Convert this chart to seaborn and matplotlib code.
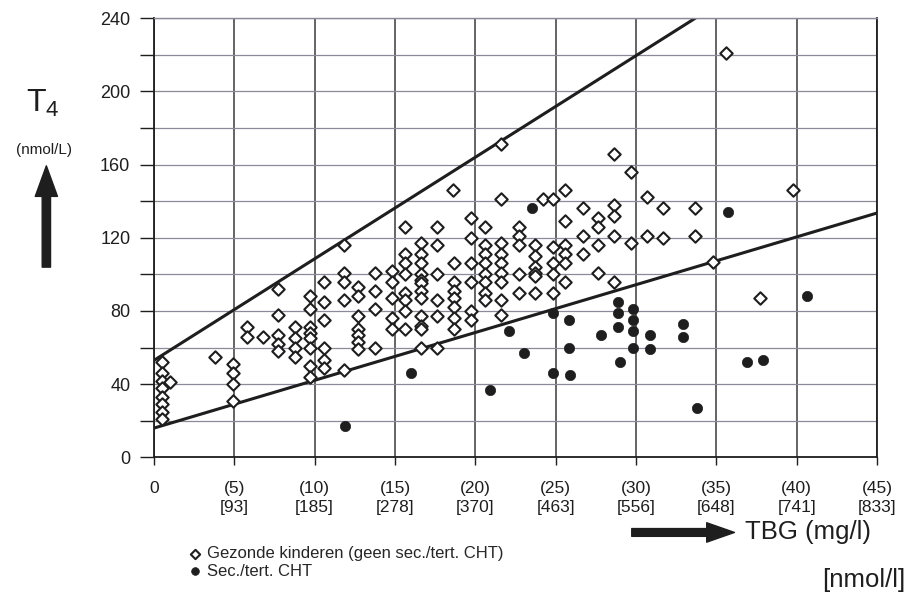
import numpy as np
import pandas as pd
import matplotlib.pyplot as plt
import seaborn as sns

# healthy children (open diamonds): TBG in mg/l, T4 in nmol/L
healthy_tbg = [
    0.5, 0.5, 0.5, 0.5, 0.5, 0.5, 0.5, 0.5, 1.0, 3.8,
    4.9, 4.9, 4.9, 4.9, 5.8, 5.8, 6.8,
    7.7, 7.7, 7.7, 7.7, 7.7,
    8.8, 8.8, 8.8, 8.8,
    9.7, 9.7, 9.7, 9.7, 9.7, 9.7, 9.7, 9.7,
    10.6, 10.6, 10.6, 10.6, 10.6, 10.6,
    11.8, 11.8, 11.8, 11.8, 11.8,
    12.7, 12.7, 12.7, 12.7, 12.7, 12.7, 12.7,
    13.75, 13.75, 13.75, 13.75,
    14.8, 14.8, 14.8, 14.8, 14.8,
    15.6, 15.6, 15.6, 15.6, 15.6, 15.6, 15.6, 15.6,
    16.6, 16.6, 16.6, 16.6, 16.6, 16.6, 16.6, 16.6, 16.6, 16.6, 16.6, 16.6,
    17.6, 17.6, 17.6, 17.6, 17.6, 17.6,
    18.6,
    18.7, 18.7, 18.7, 18.7, 18.7, 18.7, 18.7,
    19.7, 19.7, 19.7, 19.7, 19.7, 19.7,
    20.6, 20.6, 20.6, 20.6, 20.6, 20.6, 20.6, 20.6,
    21.6, 21.6, 21.6, 21.6, 21.6, 21.6, 21.6, 21.6, 21.6,
    22.7, 22.7, 22.7, 22.7, 22.7,
    23.7, 23.7, 23.7, 23.7, 23.7, 23.7,
    24.2,
    24.85, 24.85, 24.85, 24.85, 24.85,
    25.6, 25.6, 25.6, 25.6, 25.6, 25.6,
    26.7, 26.7, 26.7,
    27.65, 27.65, 27.65, 27.65,
    28.6, 28.6, 28.6, 28.6, 28.6,
    29.7, 29.7, 30.7, 30.7, 31.7, 31.7, 33.7, 33.7,
    34.8, 35.6, 37.7, 39.8,
]
healthy_t4 = [
    52, 46, 42, 38, 33, 29, 25, 21, 41, 55,
    51, 46, 40, 31, 71, 66, 66,
    92, 78, 67, 62, 58,
    71, 65, 60, 55,
    88, 81, 71, 68, 65, 60, 50, 44,
    96, 85, 75, 60, 53, 49,
    116, 101, 96, 86, 48,
    93, 88, 77, 70, 67, 63, 59,
    101, 91, 81, 60,
    102, 96, 87, 76, 70,
    126, 111, 106, 100, 90, 86, 80, 70,
    117, 111, 106, 100, 97, 95, 91, 87, 77, 72, 70, 60,
    126, 116, 100, 86, 77, 60,
    146,
    106, 96, 91, 87, 82, 76, 70,
    131, 120, 106, 96, 80, 75,
    126, 116, 111, 106, 100, 96, 90, 86,
    171, 141, 117, 111, 106, 101, 96, 86, 78,
    126, 121, 116, 100, 90,
    116, 110, 104, 101, 99, 90,
    141,
    141, 115, 106, 100, 90,
    146, 129, 116, 111, 106, 96,
    136, 121, 111,
    131, 126, 116, 101,
    166, 138, 132, 121, 96,
    156, 117, 142, 121, 136, 120, 136, 121,
    107, 221, 87, 146,
]

# secondary / tertiary CHT (filled dots)
cht_tbg = [11.9, 16.0, 20.9, 22.1, 23.0, 23.5, 24.85, 24.85, 25.8, 25.8,
           25.9, 27.8, 28.9, 28.9, 28.9, 29.0, 29.8, 29.8, 29.8, 29.8,
           30.9, 30.9, 32.9, 32.9, 33.8, 35.7, 36.9, 37.9, 40.65]
cht_t4 = [17, 46, 37, 69, 57, 136, 79, 46, 75, 60,
          45, 67, 85, 79, 71, 52, 81, 75, 69, 60,
          67, 59, 73, 66, 27, 134, 52, 53, 88]

# the two boundary lines
upper_tbg = [0, 33.7]
upper_t4 = [53, 240]
lower_tbg = [0, 45]
lower_t4 = [16, 133.5]

x_ticks = [0, 5, 10, 15, 20, 25, 30, 35, 40, 45]
x_nmol = [None, 93, 185, 278, 370, 463, 556, 648, 741, 833]

healthy = pd.DataFrame({'tbg': healthy_tbg, 't4': healthy_t4})
cht = pd.DataFrame({'tbg': cht_tbg, 't4': cht_t4})

sns.set_style('white')
plt.rcParams['font.family'] = ['Liberation Sans', 'DejaVu Sans']

fig, ax = plt.subplots(figsize=(9.09, 6.03), dpi=100)
fig.subplots_adjust(left=0.1694, right=0.9648, bottom=0.2415, top=0.970)

ink = '#1e1e1e'
sns.lineplot(x=upper_tbg, y=upper_t4, ax=ax, color=ink, lw=2.2, zorder=2)
sns.lineplot(x=lower_tbg, y=lower_t4, ax=ax, color=ink, lw=2.2, zorder=2)

sns.scatterplot(data=healthy, x='tbg', y='t4', ax=ax, marker='D', s=40,
                color='white', edgecolor=ink, linewidth=1.5, zorder=3,
                label='Gezonde kinderen (geen sec./tert. CHT)')
sns.scatterplot(data=cht, x='tbg', y='t4', ax=ax, marker='o', s=55,
                color=ink, edgecolor=ink, linewidth=0.5, zorder=3,
                label='Sec./tert. CHT')

ax.set_xlim(0, 45)
ax.set_ylim(0, 240)
ax.set_xlabel('')
ax.set_ylabel('')

ax.set_xticks(x_ticks)
ax.set_xticklabels(['0' if n is None else f'({t})\n[{n}]' for t, n in zip(x_ticks, x_nmol)])
plt.setp(ax.get_xticklabels(), linespacing=1.3)
ax.set_yticks(range(0, 241, 40))
ax.set_yticks(range(20, 241, 40), minor=True)

ax.tick_params(axis='x', direction='out', length=6, width=1, pad=11,
               labelsize=12.5, colors=ink, bottom=True)
ax.tick_params(axis='y', which='both', direction='out', length=10, width=1,
               pad=7, labelsize=13, colors=ink, left=True)

ax.set_axisbelow(True)
ax.yaxis.grid(True, which='both', color='#8a8a98', lw=0.9)
ax.xaxis.grid(True, color='#3a3a3a', lw=1.1)
for side in ['left', 'bottom', 'right']:
    ax.spines[side].set_color(ink)
    ax.spines[side].set_linewidth(1.3)
ax.spines['top'].set_color('#8a8a98')
ax.spines['top'].set_linewidth(1)

ax.legend(loc='upper left', bbox_to_anchor=(0.2074, 0.094),
          bbox_transform=fig.transFigure, frameon=False, fontsize=12,
          borderpad=0, borderaxespad=0, handlelength=0.8, handletextpad=0.3,
          labelspacing=0.15, markerscale=0.75)

# axis captions with arrows
fig.text(0.047, 0.829, r'$\mathregular{T_4}$', fontsize=23, ha='center', va='center', color=ink)
fig.text(0.048, 0.751, '(nmol/L)', fontsize=11, ha='center', va='center', color=ink)
ax.annotate('', xy=(0.051, 0.725), xytext=(0.051, 0.557), xycoords='figure fraction',
            arrowprops=dict(arrowstyle='simple,head_width=0.8,head_length=1.1,tail_width=0.3',
                            color=ink, mutation_scale=20, shrinkA=0, shrinkB=0))
ax.annotate('', xy=(0.808, 0.117), xytext=(0.695, 0.117), xycoords='figure fraction',
            arrowprops=dict(arrowstyle='simple,head_width=0.7,head_length=1.0,tail_width=0.28',
                            color=ink, mutation_scale=20, shrinkA=0, shrinkB=0))
fig.text(0.82, 0.117, 'TBG (mg/l)', fontsize=18.5, ha='left', va='center', color=ink)
fig.text(0.996, 0.038, '[nmol/l]', fontsize=18.5, ha='right', va='center', color=ink)

fig.savefig('out.png', dpi=100, facecolor='white')
